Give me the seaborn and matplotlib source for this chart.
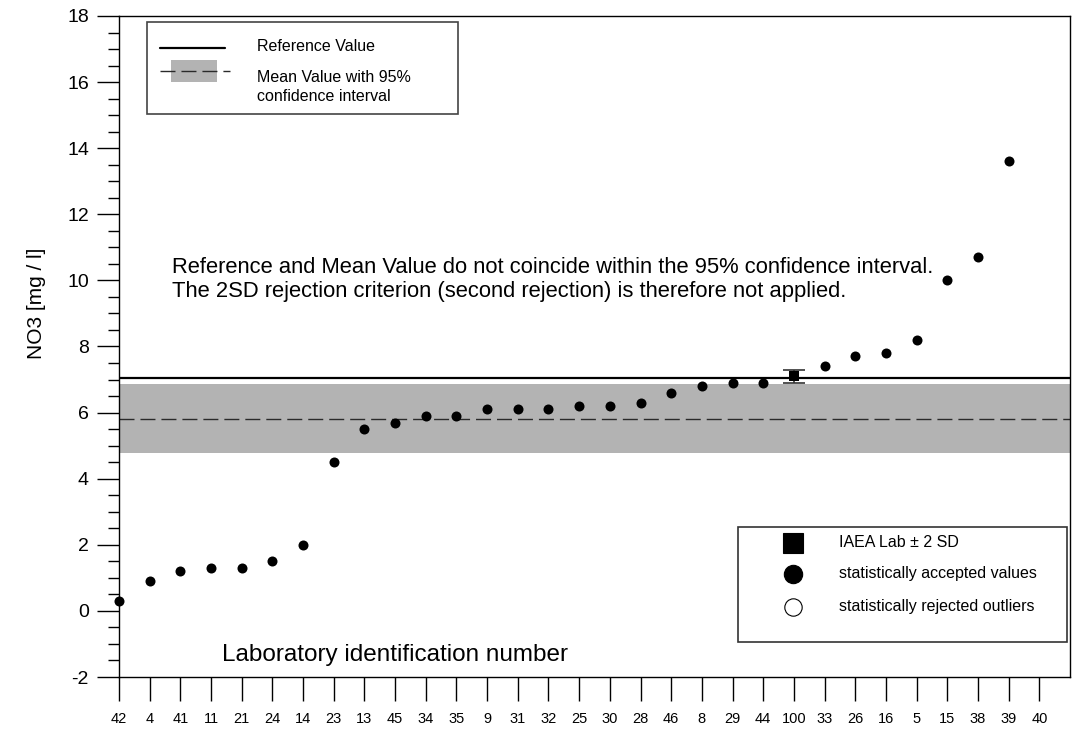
import numpy as np
import pandas as pd
import matplotlib
matplotlib.use("Agg")
import matplotlib.pyplot as plt
from matplotlib.patches import Rectangle
from matplotlib.lines import Line2D
from matplotlib.ticker import MultipleLocator
import seaborn as sns

# Laboratories in ranked order and their reported NO3 results (mg/l)
lab_ids = ["42", "4", "41", "11", "21", "24", "14", "23", "13", "45", "34",
           "35", "9", "31", "32", "25", "30", "28", "46", "8", "29", "44",
           "100", "33", "26", "16", "5", "15", "38", "39", "40"]
no3_values = [0.3, 0.9, 1.2, 1.3, 1.3, 1.5, 2.0, 4.5, 5.5, 5.7, 5.9,
              5.9, 6.1, 6.1, 6.1, 6.2, 6.2, 6.3, 6.6, 6.8, 6.9, 6.9,
              7.1, 7.4, 7.7, 7.8, 8.2, 10.0, 10.7, 13.6, np.nan]

iaea_lab = "100"
iaea_2sd = 0.2

reference_value = 7.05
mean_value = 5.8
ci_low, ci_high = 4.78, 6.88

y_ticks = list(range(-2, 19, 2))

sns.set_style("ticks")
plt.rcParams["font.family"] = ["Liberation Sans", "DejaVu Sans"]
plt.rcParams["text.color"] = "black"

df = pd.DataFrame({"lab": lab_ids, "pos": np.arange(len(lab_ids)), "no3": no3_values})
accepted = df[(df["lab"] != iaea_lab) & df["no3"].notna()]
iaea = df[df["lab"] == iaea_lab]

W, H = 1079, 731
fig = plt.figure(figsize=(W / 100, H / 100), dpi=100)
ax = fig.add_axes([119 / W, 1 - 677 / H, 951 / W, 661 / H])

# mean value with its 95% confidence band, and the reference value
ax.axhspan(ci_low, ci_high, color="#b3b3b3", lw=0, zorder=1)
ax.axhline(mean_value, color="#2a2a2a", lw=1.0, dashes=(10.8, 4.3), zorder=2)
ax.axhline(reference_value, color="black", lw=1.6, zorder=3)

# accepted laboratory results
sns.scatterplot(data=accepted, x="pos", y="no3", ax=ax, color="black", s=52,
                linewidth=0, zorder=5, clip_on=False, legend=False)

# IAEA laboratory with its 2 SD range
ax.errorbar(iaea["pos"], iaea["no3"], yerr=iaea_2sd, fmt="none", ecolor="#333333",
            elinewidth=1.2, capsize=8.2, capthick=1.2, zorder=4)
sns.scatterplot(data=iaea, x="pos", y="no3", ax=ax, marker="s", color="black", s=48,
                linewidth=0, zorder=6, legend=False)

ax.set_xlim(0, len(lab_ids))
ax.set_ylim(-2, 18)
ax.set_xticks(df["pos"])
ax.set_xticklabels(lab_ids)
ax.set_yticks(y_ticks)
ax.set_yticklabels([str(t) for t in y_ticks])
ax.yaxis.set_minor_locator(MultipleLocator(0.5))
ax.set_xlabel("")
ax.set_ylabel("")

for s in ax.spines.values():
    s.set_visible(True)
    s.set_color("black")
    s.set_linewidth(1.0)

ax.tick_params(axis="y", which="major", direction="out", length=15.8, width=1.0,
               pad=5.8, labelsize=14, color="black", labelcolor="black")
ax.tick_params(axis="y", which="minor", direction="out", length=7.9, width=1.0,
               color="black")
ax.tick_params(axis="x", which="major", direction="out", length=17.3, width=1.0,
               pad=7.8, labelsize=10.5, color="black", labelcolor="black")

fig.text(37 / W, 1 - 303 / H, "NO3 [mg / l]", rotation=90, ha="center",
         va="center", fontsize=15)

ax.text(0.1083, 0.0333, "Laboratory identification number", transform=ax.transAxes,
        ha="left", va="center", fontsize=17.5)

ax.text(0.0557, 0.6010,
        "Reference and Mean Value do not coincide within the 95% confidence interval.\n"
        "The 2SD rejection criterion (second rejection) is therefore not applied.",
        transform=ax.transAxes, ha="left", va="center", fontsize=15.8, linespacing=1.2)

# upper legend: reference value and mean value band
T = ax.transAxes
ax.add_patch(Rectangle((0.0294, 0.8517), 0.3271, 0.1392, transform=T, facecolor="white",
                       edgecolor="#444444", lw=1.2, zorder=7))
ax.add_line(Line2D([0.0431, 0.1115], [0.9516, 0.9516], transform=T, color="black",
                   lw=1.6, zorder=8))
ax.add_patch(Rectangle((0.0547, 0.9002), 0.0483, 0.0332, transform=T,
                       facecolor="#b3b3b3", lw=0, zorder=8))
ax.add_line(Line2D([0.0431, 0.1167], [0.9168, 0.9168], transform=T, color="#2a2a2a",
                   lw=1.0, dashes=(10.8, 4.3), zorder=9))
ax.text(0.1451, 0.9546, "Reference Value", transform=T, ha="left", va="center",
        fontsize=11.5, zorder=9)
ax.text(0.1451, 0.8930, "Mean Value with 95%\nconfidence interval", transform=T,
        ha="left", va="center", fontsize=11.5, linespacing=1.3, zorder=9)

# lower legend: marker meanings
ax.add_patch(Rectangle((0.6509, 0.0530), 0.3461, 0.1740, transform=T, facecolor="white",
                       edgecolor="#333333", lw=1.2, zorder=7))
rows = [(0.2030, "s", "black", "IAEA Lab ± 2 SD", 14.4),
        (0.1559, "o", "black", "statistically accepted values", 13.2),
        (0.1064, "o", "white", "statistically rejected outliers", 12.5)]
for yy, mk, fc, label, ms in rows:
    ax.add_line(Line2D([0.7087], [yy], transform=T, marker=mk, markersize=ms,
                       markerfacecolor=fc, markeredgecolor="black", markeredgewidth=0.8,
                       linestyle="none", zorder=9))
    ax.text(0.7571, yy, label, transform=T, ha="left", va="center", fontsize=11.5, zorder=9)

fig.savefig("out.png", dpi=100)
